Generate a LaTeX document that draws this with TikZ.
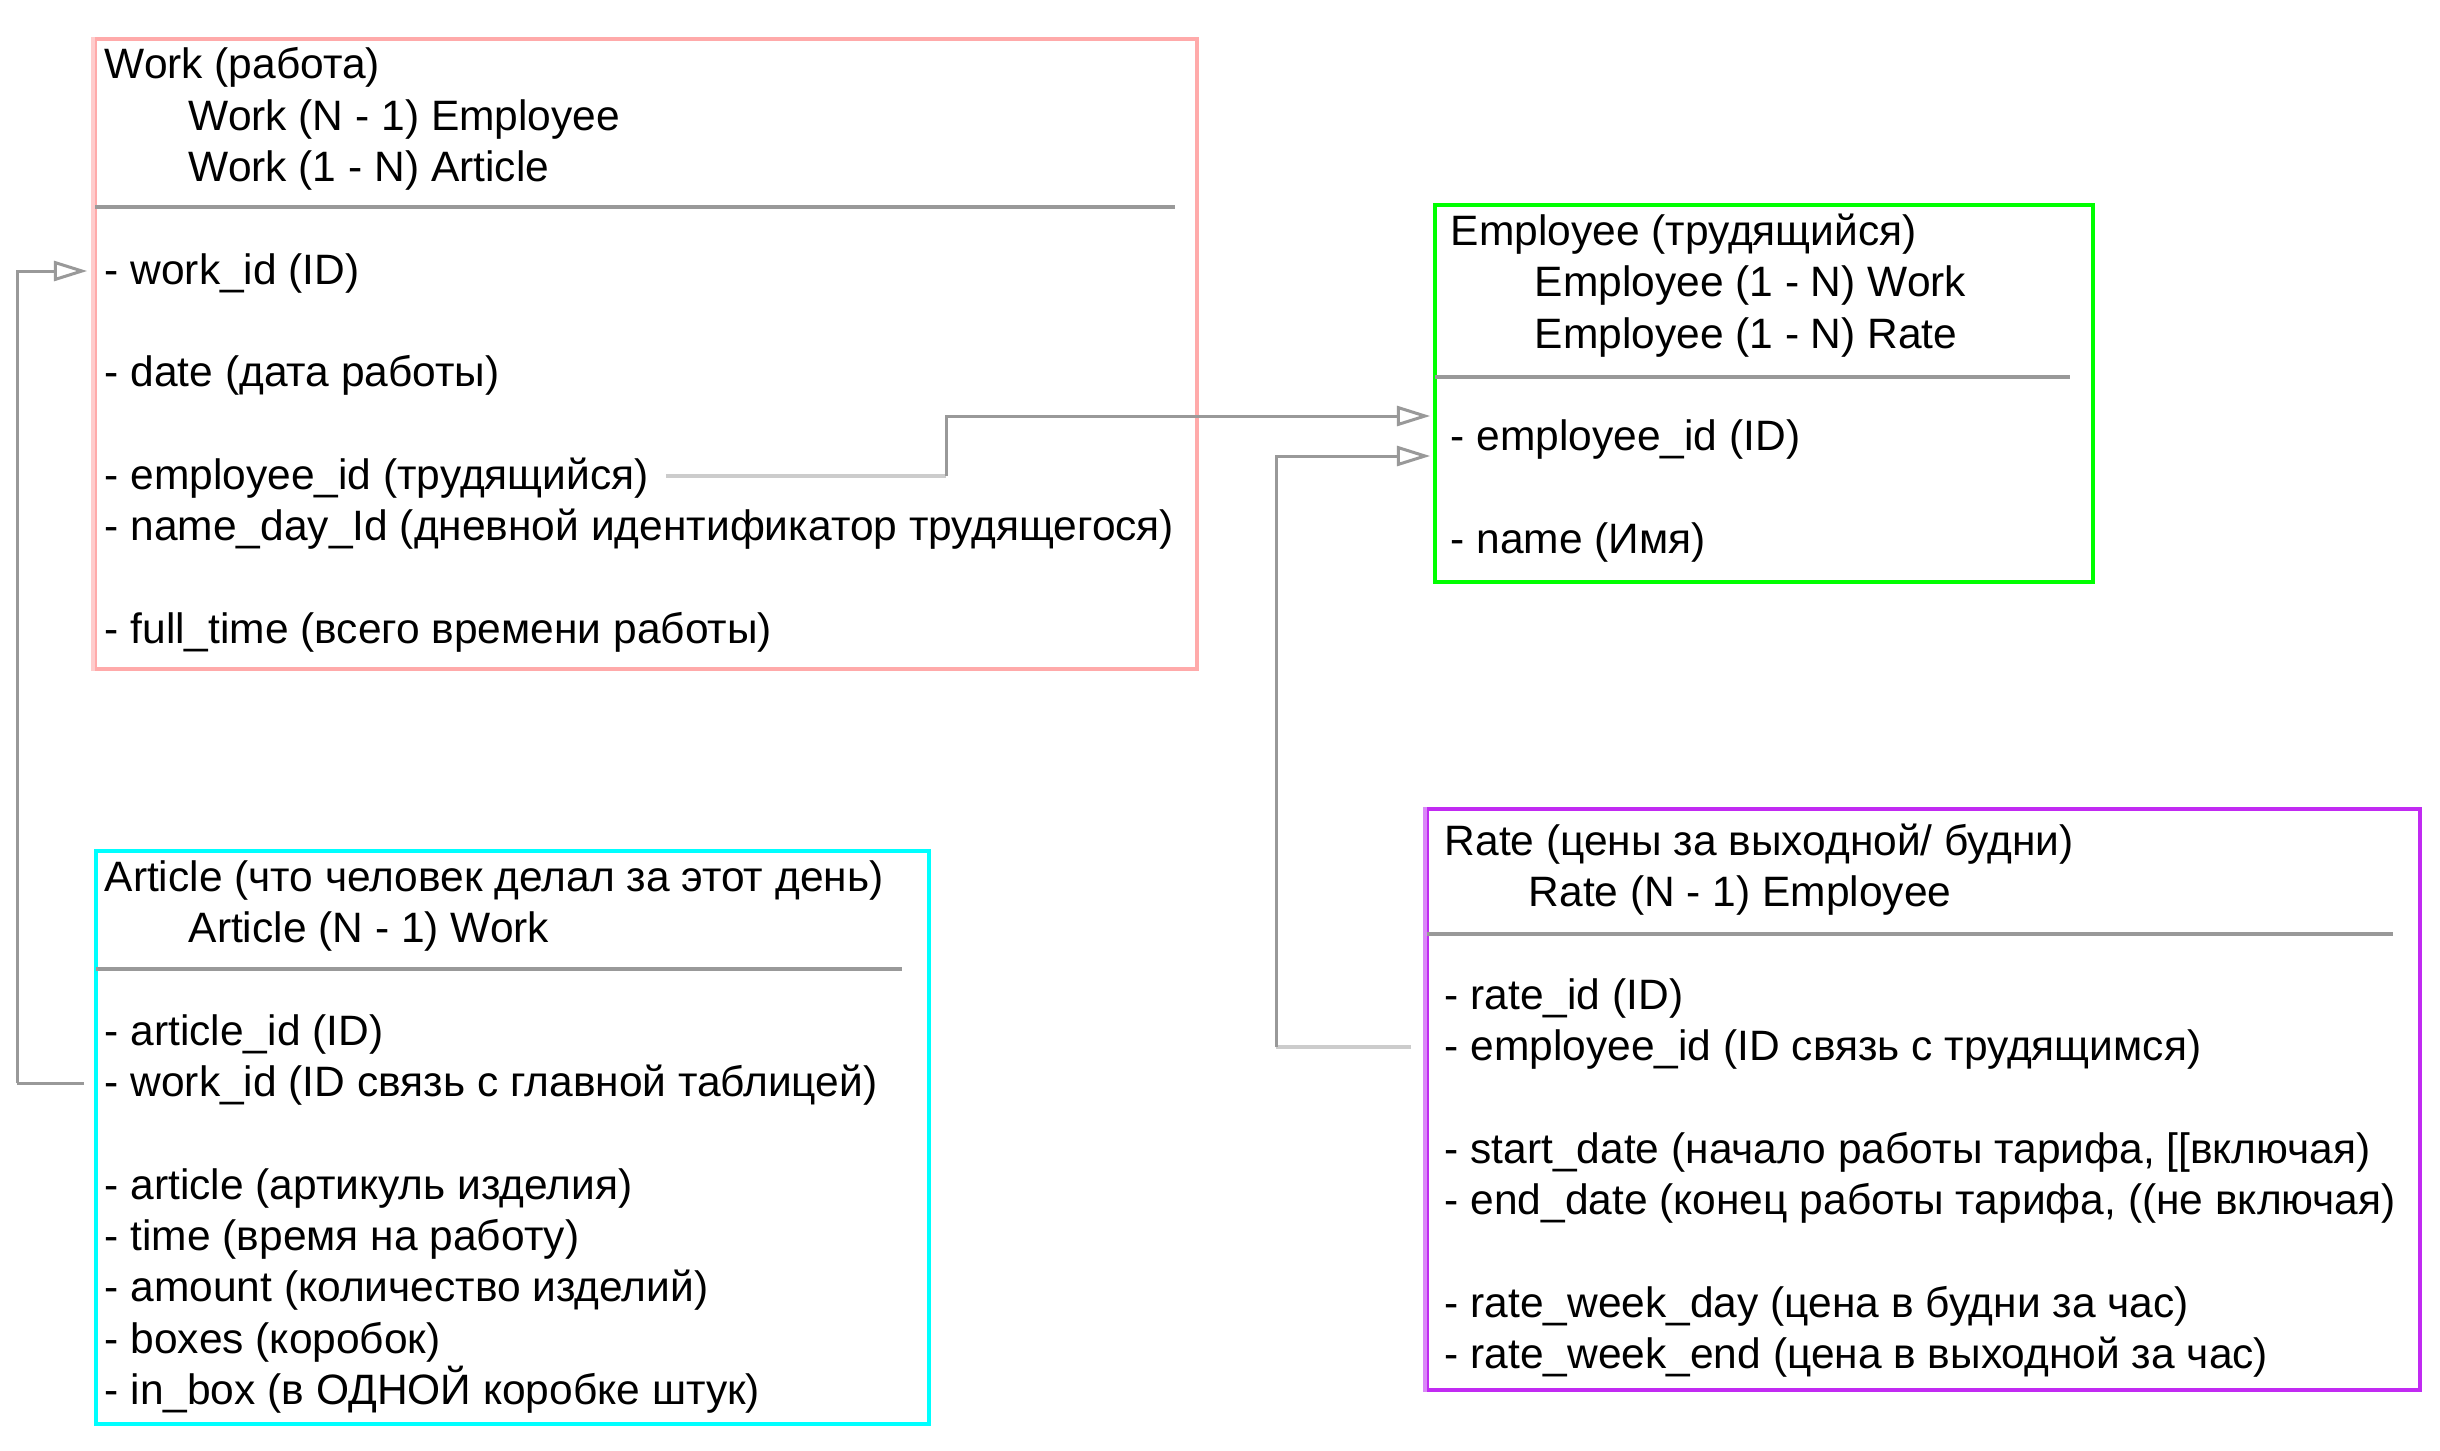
\documentclass[tikz,border=0pt]{standalone}
\usepackage{fontspec}
\setmainfont{Liberation Sans}
\usepackage{tikz}
\usetikzlibrary{arrows.meta,calc}
\usepackage{xcolor}
\definecolor{workc}{HTML}{FFAAAA}
\definecolor{workl}{HTML}{FFCCCC}
\definecolor{empc}{HTML}{00FF00}
\definecolor{artc}{HTML}{00FFFF}
\definecolor{ratec}{HTML}{C12AF2}
\definecolor{ratel}{HTML}{DA88F8}
\definecolor{fkgray}{HTML}{999999}
\definecolor{fklight}{HTML}{CCCCCC}

\tikzset{
  tbox/.style={draw, line width=1.1pt, inner sep=0pt},
  fld/.style={anchor=west, inner sep=0pt, text height=.95em, text depth=.12em},
  sepline/.style={draw=fkgray, line width=1pt},
  fk/.style={draw=fkgray, line width=0.9pt},
  fkstart/.style={draw=fklight, line width=1.4pt},
  fktip/.style={-{Triangle[open,length=10pt,width=6pt]}},
}

\begin{document}
\begin{tikzpicture}[x=0.3pt, y=-0.3pt, font=\fontsize{12.75}{15}\selectfont]
  \useasboundingbox (0,0) rectangle (2440,1450);

  % boxes
  \node[tbox, draw=workc, minimum width=330.6pt, minimum height=189pt] (work) at (646,354) {};
  \draw[workl, line width=1.1pt] (work.south west) -- (work.north west);
  \node[tbox, draw=empc, minimum width=197.4pt, minimum height=113.1pt] (emp) at (1764,393.5) {};
  \node[tbox, draw=artc, minimum width=249.9pt, minimum height=171.9pt] (art) at (512.5,1137.5) {};
  \node[tbox, draw=ratec, minimum width=297.9pt, minimum height=174.3pt] (rate) at (1923.5,1099.5) {};
  \draw[ratel, line width=1.1pt] (rate.south west) -- (rate.north west);

  \draw[sepline] (95,207) -- (1175,207);
  \draw[sepline] (1435,377) -- (2070,377);
  \draw[sepline] (96,969) -- (902,969);
  \draw[sepline] (1427,934) -- (2393,934);

  % Work
  \node[fld] (wHead) at (104,65) {Work (работа)};
  \node[fld] (wRel1) at (188,117) {Work (N - 1) Employee};
  \node[fld] (wRel2) at (188,168) {Work (1 - N) Article};
  \node[fld] (wId) at (104,271) {- work\_id (ID)};
  \node[fld] (wDate) at (104,373) {- date (дата работы)};
  \node[fld] (wEmp) at (104,476) {- employee\_id (трудящийся)};
  \node[fld] (wName) at (104,527) {- name\_day\_Id (дневной идентификатор трудящегося)};
  \node[fld] (wFull) at (104,630) {- full\_time (всего времени работы)};

  % Employee
  \node[fld] (eHead) at (1450,232) {Employee (трудящийся)};
  \node[fld] (eRel1) at (1534,283) {Employee (1 - N) Work};
  \node[fld] (eRel2) at (1534,335) {Employee (1 - N) Rate};
  \node[fld] (eId) at (1450,437) {- employee\_id (ID)};
  \node[fld] (eName) at (1450,540) {- name (Имя)};

  % Article
  \node[fld] (aHead) at (104,878) {Article (что человек делал за этот день)};
  \node[fld] (aRel1) at (188,929) {Article (N - 1) Work};
  \node[fld] (aId) at (104,1032) {- article\_id (ID)};
  \node[fld] (aWork) at (104,1083) {- work\_id (ID связь с главной таблицей)};
  \node[fld] (aArt) at (104,1186) {- article (артикуль изделия)};
  \node[fld] (aTime) at (104,1237) {- time (время на работу)};
  \node[fld] (aAmt) at (104,1288) {- amount (количество изделий)};
  \node[fld] (aBox) at (104,1340) {- boxes (коробок)};
  \node[fld] (aIn) at (104,1391) {- in\_box (в ОДНОЙ коробке штук)};

  % Rate
  \node[fld] (rHead) at (1444,842) {Rate (цены за выходной/ будни)};
  \node[fld] (rRel1) at (1528,893) {Rate (N - 1) Employee};
  \node[fld] (rId) at (1444,996) {- rate\_id (ID)};
  \node[fld] (rEmp) at (1444,1047) {- employee\_id (ID связь с трудящимся)};
  \node[fld] (rStart) at (1444,1150) {- start\_date (начало работы тарифа, [[включая)};
  \node[fld] (rEnd) at (1444,1201) {- end\_date (конец работы тарифа, ((не включая)};
  \node[fld] (rDay) at (1444,1304) {- rate\_week\_day (цена в будни за час)};
  \node[fld] (rWend) at (1444,1355) {- rate\_week\_end (цена в выходной за час)};

  % links
  \coordinate (c1) at (946,476);
  \draw[fkstart] ([xshift=5pt]wEmp.east) -- (c1);
  \draw[fk, fktip] (c1) |- ($(emp.west |- eId.west)+(-3,-21)$);

  \coordinate (c2) at (1276,1047);
  \draw[fkstart] ($(rate.west |- rEmp.west)+(-14,0)$) -- (c2);
  \draw[fk, fktip] (c2) |- ($(emp.west |- eId.west)+(-3,19)$);

  \coordinate (c3) at (17,1083);
  \draw[fk] ($(art.west |- aWork.west)+(-10,0)$) -- (c3);
  \draw[fk, fktip] (c3) |- ($(work.west |- wId.west)+(-6,0)$);
\end{tikzpicture}
\end{document}
